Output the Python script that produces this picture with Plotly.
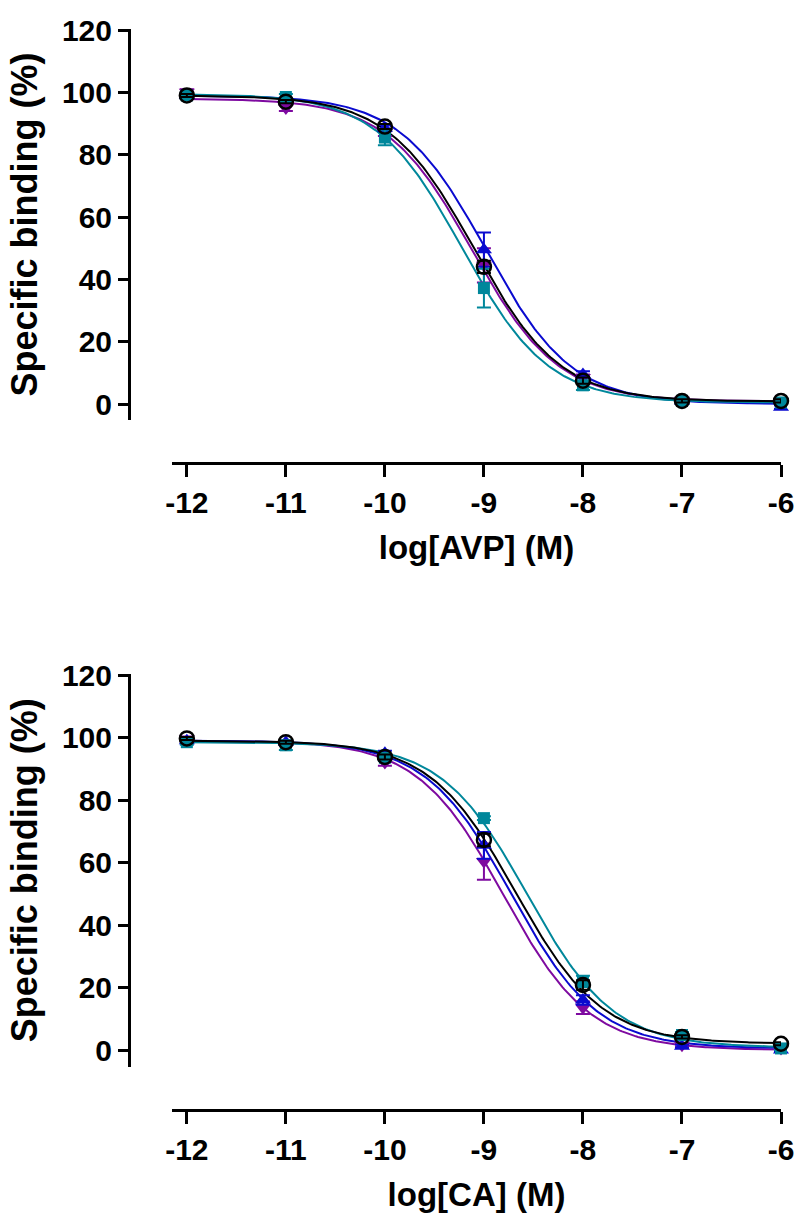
import numpy as np
import plotly.graph_objects as go

# ---------------- data ----------------
log_conc = [-12, -11, -10, -9, -8, -7, -6]
x_tick_vals = [-12, -11, -10, -9, -8, -7, -6]
x_tick_text = ["-12", "-11", "-10", "-9", "-8", "-7", "-6"]
y_tick_vals = [0, 20, 40, 60, 80, 100, 120]
y_tick_text = ["0", "20", "40", "60", "80", "100", "120"]

# AVP panel: means and SEM
avp_teal = [99.0, 98.5, 85.5, 37.2, 6.0, 1.0, 0.5]
avp_teal_err = [1.0, 1.0, 2.5, 6.2, 1.5, 0.6, 0.5]
avp_purple = [100.0, 95.0, 87.0, 44.5, 8.5, 1.2, 0.8]
avp_purple_err = [1.0, 1.0, 1.0, 5.5, 1.0, 0.5, 0.5]
avp_blue = [99.0, 97.5, 88.5, 49.5, 9.5, 1.0, -1.0]
avp_blue_err = [0.5, 0.8, 1.0, 5.5, 1.0, 0.5, 0.5]
avp_black = [99.0, 97.0, 89.0, 44.0, 7.5, 1.0, 1.0]
avp_black_err = [0.5, 0.5, 0.8, 2.0, 1.0, 0.5, 0.5]

# AVP fitted curve parameters (top, bottom, logIC50, hill)
avp_fit_teal = [99.5, 0.5, -9.22, 1.0]
avp_fit_purple = [98.0, 0.8, -9.12, 1.0]
avp_fit_blue = [99.0, 0.0, -8.98, 1.0]
avp_fit_black = [99.0, 0.8, -9.10, 1.0]

# CA panel
ca_teal = [98.5, 97.5, 93.5, 74.2, 22.0, 4.8, 0.5]
ca_teal_err = [0.8, 1.5, 1.0, 0.6, 1.8, 1.0, 0.5]
ca_purple = [99.5, 98.0, 92.0, 60.3, 13.5, 1.5, 0.5]
ca_purple_err = [0.5, 0.5, 1.0, 5.8, 2.0, 0.5, 0.5]
ca_blue = [99.0, 98.5, 95.0, 65.5, 16.0, 1.2, 0.0]
ca_blue_err = [0.5, 0.5, 0.8, 4.3, 1.5, 0.5, 0.5]
ca_black = [99.7, 98.5, 93.8, 67.2, 20.8, 4.2, 2.0]
ca_black_err = [0.5, 0.5, 0.8, 2.0, 1.5, 0.5, 0.5]

ca_fit_teal = [98.5, 0.8, -8.56, 1.0]
ca_fit_purple = [99.0, 0.0, -8.80, 1.0]
ca_fit_blue = [99.0, 0.5, -8.72, 1.0]
ca_fit_black = [99.0, 2.0, -8.68, 1.0]

x_titles = ["log[AVP] (M)", "log[CA] (M)"]
y_title = "Specific binding (%)"

# ---------------- style ----------------
colors = {"teal": "#00879B", "purple": "#7E0AA0", "blue": "#0A0ACF", "black": "#000000"}
symbols = {"teal": "square", "purple": "triangle-down", "blue": "triangle-up", "black": "circle-open"}
msizes = {"teal": 12, "purple": 14, "blue": 14, "black": 14}
FONT = "Liberation Sans, Arial, sans-serif"
W, H = 798, 1215


def fx(px):
    return px / W


def fy(py):
    return 1 - py / H


def four_pl(x, p):
    top, bottom, logic50, hill = p
    return bottom + (top - bottom) / (1.0 + 10 ** ((x - logic50) * hill))


fig = go.Figure()

panels = [
    (dict(teal=(avp_teal, avp_teal_err, avp_fit_teal), purple=(avp_purple, avp_purple_err, avp_fit_purple),
          blue=(avp_blue, avp_blue_err, avp_fit_blue), black=(avp_black, avp_black_err, avp_fit_black)), "x", "y"),
    (dict(teal=(ca_teal, ca_teal_err, ca_fit_teal), purple=(ca_purple, ca_purple_err, ca_fit_purple),
          blue=(ca_blue, ca_blue_err, ca_fit_blue), black=(ca_black, ca_black_err, ca_fit_black)), "x2", "y2"),
]

xfine = np.linspace(min(log_conc), max(log_conc), 300)
draw_order = ["purple", "blue", "teal", "black"]
for pdata, xa, ya in panels:
    for name in draw_order:
        _, _, fit = pdata[name]
        fig.add_trace(go.Scatter(x=xfine, y=four_pl(xfine, fit), mode="lines",
                                 line=dict(color=colors[name], width=2), xaxis=xa, yaxis=ya,
                                 showlegend=False, hoverinfo="skip", cliponaxis=False))
    for name in draw_order:
        vals, errs, _ = pdata[name]
        marker = dict(symbol=symbols[name], size=msizes[name], color=colors[name])
        if name == "black":
            marker["line"] = dict(width=2.5, color="#000000")
        fig.add_trace(go.Scatter(x=log_conc, y=vals, mode="markers", marker=marker,
                                 error_y=dict(type="data", array=errs, visible=True, color=colors[name],
                                              thickness=2, width=7),
                                 xaxis=xa, yaxis=ya, showlegend=False, cliponaxis=False))

tickfont = dict(family=FONT, size=30, color="black", weight="bold")
xtitlefont = dict(family=FONT, size=33, color="black", weight="bold")
ytitlefont = dict(family=FONT, size=36, color="black", weight="bold")

x_dom = [fx(172), fx(781)]
common_x = dict(range=[-12.15, -6], domain=x_dom, showline=True, linewidth=3, linecolor="black",
                ticks="outside", ticklen=12, tickwidth=3, tickcolor="black", tickvals=x_tick_vals,
                ticktext=x_tick_text, tickfont=tickfont, showgrid=False, zeroline=False, anchor="free",
                automargin=False)
common_y = dict(showline=True, linewidth=3, linecolor="black", ticks="outside", ticklen=10, tickwidth=3,
                tickcolor="black", tickvals=y_tick_vals, ticktext=y_tick_text, tickfont=tickfont,
                showgrid=False, zeroline=False, anchor="free", position=fx(129), automargin=False,
                title=dict(text=y_title, font=ytitlefont, standoff=12))

fig.update_layout(
    width=W, height=H, margin=dict(l=0, r=0, t=0, b=0),
    paper_bgcolor="white", plot_bgcolor="white", showlegend=False,
    xaxis=dict(common_x, position=fy(463), title=dict(text=x_titles[0], font=xtitlefont, standoff=17)),
    yaxis=dict(common_y, domain=[fy(420), fy(29)], range=[-5.13, 120.32]),
    xaxis2=dict(common_x, position=fy(1110), title=dict(text=x_titles[1], font=xtitlefont, standoff=17)),
    yaxis2=dict(common_y, domain=[fy(1067), fy(673.5)], range=[-5.44, 120.48]),
)

fig.write_html("out.html", config={"displayModeBar": False},
               post_script="document.body.style.margin='0';document.body.style.overflow='hidden';")
